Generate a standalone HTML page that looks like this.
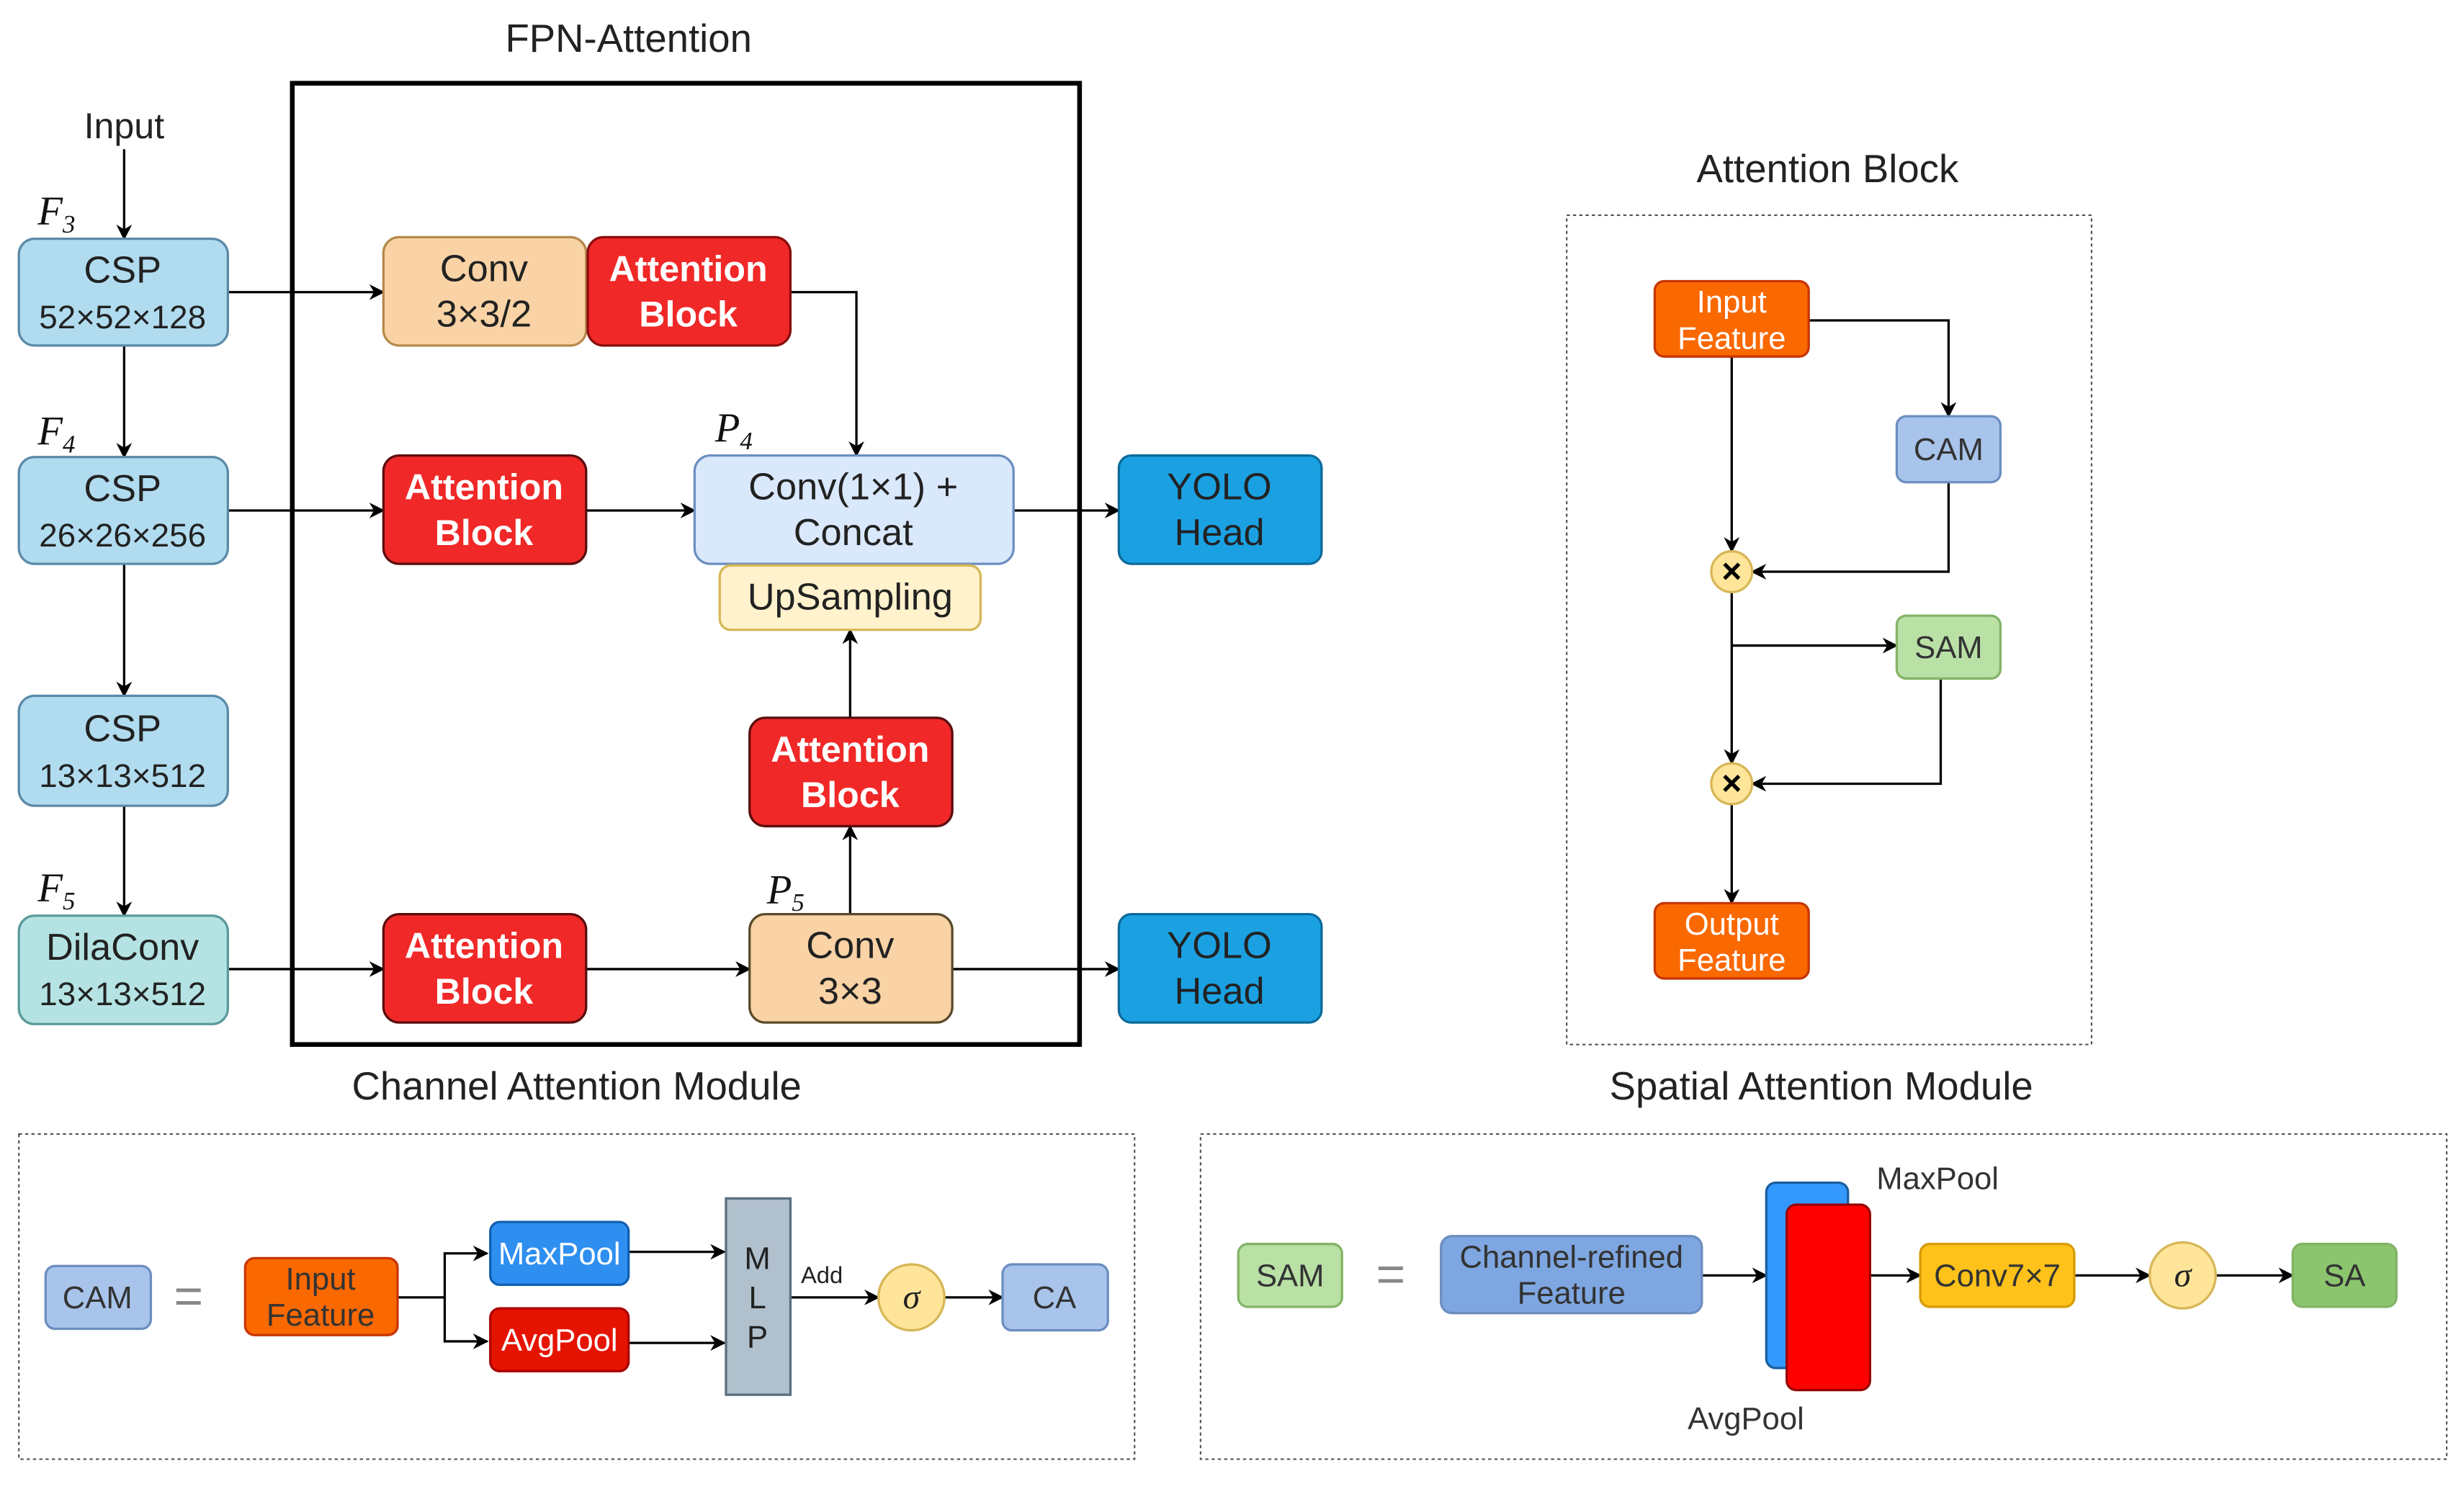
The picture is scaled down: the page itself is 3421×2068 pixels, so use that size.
<!DOCTYPE html>
<html><head><meta charset="utf-8"><style>html,body{margin:0;padding:0;background:#fff}svg{display:block}</style></head>
<body>
<svg width="3421" height="2068" viewBox="0 0 1568 948" preserveAspectRatio="none" xmlns="http://www.w3.org/2000/svg" font-family="Liberation Sans, sans-serif">
<defs>
<marker id="a" markerWidth="10" markerHeight="10" refX="9" refY="5" orient="auto" markerUnits="userSpaceOnUse"><path d="M0,0 L10,5 L0,10 L3,5 z" fill="#000"/></marker>
</defs>
<rect width="1568" height="948" fill="#fff"/>
<g font-size="25" fill="#222" text-anchor="middle">
<text x="400" y="33">FPN-Attention</text>
<text x="79" y="88" font-size="23">Input</text>
<text x="1163" y="116">Attention Block</text>
<text x="367" y="700">Channel Attention Module</text>
<text x="1159" y="700">Spatial Attention Module</text>
</g>
<rect x="186" y="53" width="501" height="612" fill="none" stroke="#000" stroke-width="3"/>
<g font-family="Liberation Serif, serif" font-style="italic" font-size="26" fill="#111">
<text x="24" y="143">F<tspan font-size="16" dy="5">3</tspan></text>
<text x="24" y="283">F<tspan font-size="16" dy="5">4</tspan></text>
<text x="24" y="574">F<tspan font-size="16" dy="5">5</tspan></text>
<text x="455" y="281">P<tspan font-size="16" dy="5">4</tspan></text>
<text x="488" y="575">P<tspan font-size="16" dy="5">5</tspan></text>
</g>
<g stroke="#000" stroke-width="1.5" fill="none" marker-end="url(#a)">
<path d="M79 95V152"/><path d="M79 220V291"/><path d="M79 359V443"/><path d="M79 513V583"/>
<path d="M145 186H244"/><path d="M503 186H545V290"/><path d="M145 325H244"/><path d="M373 325H442"/>
<path d="M645 325H712"/><path d="M145 617H244"/><path d="M373 617H477"/><path d="M606 617H712"/>
<path d="M541 582V526"/><path d="M541 457V401"/>
<path d="M1151 204H1240V265"/><path d="M1102 227V351"/><path d="M1240 307V364H1115"/><path d="M1102 377V486"/>
<path d="M1102 411H1207"/><path d="M1235 432V499H1115"/><path d="M1102 512V575"/>
<path d="M253 826H283V798H310"/><path d="M283 826V854H310"/><path d="M400 797H461"/><path d="M400 855H461"/>
<path d="M503 826H559"/><path d="M601 826H638"/>
<path d="M1083 812H1124"/><path d="M1190 812H1222"/><path d="M1320 812H1368"/><path d="M1410 812H1459"/>
</g>
<g stroke-width="1.5" font-size="24" text-anchor="middle">
<rect x="12" y="152" width="133" height="68" rx="10" fill="#b1dcf0" stroke="#5b8aa8"/>
<rect x="12" y="291" width="133" height="68" rx="10" fill="#b1dcf0" stroke="#5b8aa8"/>
<rect x="12" y="443" width="133" height="70" rx="10" fill="#b1dcf0" stroke="#5b8aa8"/>
<rect x="12" y="583" width="133" height="69" rx="10" fill="#b5e3e3" stroke="#5b9a9a"/>
<rect x="244" y="151" width="129" height="69" rx="10" fill="#f9d3a5" stroke="#b58a4a"/>
<rect x="374" y="151" width="129" height="69" rx="10" fill="#f02828" stroke="#8a0d0d"/>
<rect x="244" y="290" width="129" height="69" rx="10" fill="#f02828" stroke="#5a0d0d"/>
<rect x="442" y="290" width="203" height="69" rx="10" fill="#dae8fc" stroke="#6c8ebf"/>
<rect x="458" y="360" width="166" height="41" rx="7" fill="#fff2cc" stroke="#d6b656"/>
<rect x="477" y="457" width="129" height="69" rx="10" fill="#f02828" stroke="#5a0d0d"/>
<rect x="244" y="582" width="129" height="69" rx="10" fill="#f02828" stroke="#5a0d0d"/>
<rect x="477" y="582" width="129" height="69" rx="10" fill="#f9d3a5" stroke="#5a4a2a"/>
<rect x="712" y="290" width="129" height="69" rx="8" fill="#1ba1e2" stroke="#0b6a9a"/>
<rect x="712" y="582" width="129" height="69" rx="8" fill="#1ba1e2" stroke="#0b6a9a"/>
<g fill="#222">
<text x="78" y="180">CSP</text><text x="78" y="209" font-size="21">52×52×128</text>
<text x="78" y="319">CSP</text><text x="78" y="348" font-size="21">26×26×256</text>
<text x="78" y="472">CSP</text><text x="78" y="501" font-size="21">13×13×512</text>
<text x="78" y="611">DilaConv</text><text x="78" y="640" font-size="21">13×13×512</text>
<text x="308" y="179">Conv</text><text x="308" y="208">3×3/2</text>
<text x="543" y="318">Conv(1×1) +</text><text x="543" y="347">Concat</text>
<text x="541" y="388">UpSampling</text>
<text x="541" y="610">Conv</text><text x="541" y="639">3×3</text>
<text x="776" y="318">YOLO</text><text x="776" y="347">Head</text>
<text x="776" y="610">YOLO</text><text x="776" y="639">Head</text>
</g>
<g fill="#fff" font-weight="bold" font-size="23">
<text x="438" y="179">Attention</text><text x="438" y="208">Block</text>
<text x="308" y="318">Attention</text><text x="308" y="347">Block</text>
<text x="541" y="485">Attention</text><text x="541" y="514">Block</text>
<text x="308" y="610">Attention</text><text x="308" y="639">Block</text>
</g>
</g>
<rect x="997" y="137" width="334" height="528" fill="none" stroke="#555" stroke-dasharray="2,2"/>
<g stroke-width="1.5" font-size="20" text-anchor="middle">
<rect x="1053" y="179" width="98" height="48" rx="6" fill="#fa6800" stroke="#c73500"/>
<text x="1102" y="199" fill="#fff">Input</text><text x="1102" y="222" fill="#fff">Feature</text>
<rect x="1207" y="265" width="66" height="42" rx="6" fill="#a9c4eb" stroke="#6c8ebf"/>
<text x="1240" y="293" fill="#333">CAM</text>
<rect x="1207" y="392" width="66" height="40" rx="6" fill="#b9e0a5" stroke="#82b366"/>
<text x="1240" y="419" fill="#333">SAM</text>
<circle cx="1102" cy="364" r="13" fill="#ffe599" stroke="#d6b656"/>
<text x="1102" y="371" font-size="22" font-weight="bold" fill="#000">×</text>
<circle cx="1102" cy="499" r="13" fill="#ffe599" stroke="#d6b656"/>
<text x="1102" y="506" font-size="22" font-weight="bold" fill="#000">×</text>
<rect x="1053" y="575" width="98" height="48" rx="6" fill="#fa6800" stroke="#c73500"/>
<text x="1102" y="595" fill="#fff">Output</text><text x="1102" y="618" fill="#fff">Feature</text>
</g>
<rect x="12" y="722" width="710" height="207" fill="none" stroke="#555" stroke-dasharray="2,2"/>
<g stroke-width="1.5" font-size="20" text-anchor="middle">
<rect x="29" y="806" width="67" height="40" rx="6" fill="#a9c4eb" stroke="#6c8ebf"/>
<text x="62" y="833" fill="#333">CAM</text>
<text x="120" y="836" font-size="32" fill="#888">=</text>
<rect x="156" y="801" width="97" height="49" rx="6" fill="#fa6800" stroke="#c73500"/>
<text x="204" y="821" fill="#333">Input</text><text x="204" y="844" fill="#333">Feature</text>
<rect x="312" y="778" width="88" height="40" rx="6" fill="#2f8ff0" stroke="#1060b0"/>
<text x="356" y="805" fill="#fff">MaxPool</text>
<rect x="312" y="833" width="88" height="40" rx="6" fill="#e51400" stroke="#a00"/>
<text x="356" y="860" fill="#fff">AvgPool</text>
<rect x="462" y="763" width="41" height="125" fill="#b0c0cc" stroke="#5a6e7e"/>
<text x="482" y="808" fill="#222">M</text><text x="482" y="833" fill="#222">L</text><text x="482" y="858" fill="#222">P</text>
<text x="523" y="817" font-size="15" fill="#222">Add</text>
<circle cx="580" cy="826" r="21" fill="#ffe599" stroke="#d6b656"/>
<text x="580" y="833" font-family="Liberation Serif, serif" font-style="italic" font-size="22" fill="#222">σ</text>
<rect x="638" y="805" width="67" height="42" rx="6" fill="#a9c4eb" stroke="#6c8ebf"/>
<text x="671" y="833" fill="#333">CA</text>
</g>
<rect x="764" y="722" width="793" height="207" fill="none" stroke="#555" stroke-dasharray="2,2"/>
<g stroke-width="1.5" font-size="20" text-anchor="middle">
<rect x="788" y="792" width="66" height="40" rx="6" fill="#b9e0a5" stroke="#82b366"/>
<text x="821" y="819" fill="#333">SAM</text>
<text x="885" y="822" font-size="32" fill="#888">=</text>
<rect x="917" y="787" width="166" height="49" rx="7" fill="#7ea6e0" stroke="#6c8ebf"/>
<text x="1000" y="807" fill="#333">Channel-refined</text><text x="1000" y="830" fill="#333">Feature</text>
<rect x="1124" y="753" width="52" height="118" rx="6" fill="#3399ff" stroke="#1b5fa0"/>
<rect x="1137" y="767" width="53" height="118" rx="6" fill="#ff0000" stroke="#900"/>
<text x="1233" y="757" fill="#333">MaxPool</text>
<text x="1111" y="910" fill="#333">AvgPool</text>
<rect x="1222" y="792" width="98" height="40" rx="6" fill="#ffc21a" stroke="#d79b00"/>
<text x="1271" y="819" fill="#333">Conv7×7</text>
<circle cx="1389" cy="812" r="21" fill="#ffe599" stroke="#d6b656"/>
<text x="1389" y="819" font-family="Liberation Serif, serif" font-style="italic" font-size="22" fill="#222">σ</text>
<rect x="1459" y="792" width="66" height="40" rx="6" fill="#8cc56e" stroke="#82b366"/>
<text x="1492" y="819" fill="#333">SA</text>
</g>
</svg>
</body></html>
